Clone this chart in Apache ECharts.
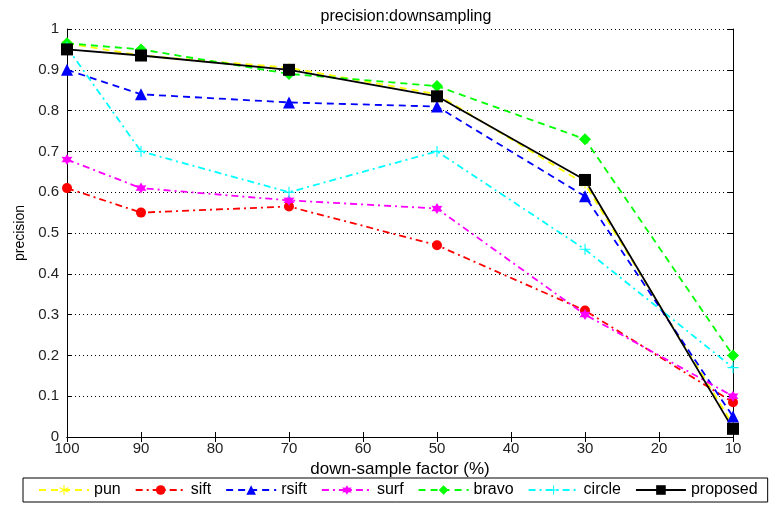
<!DOCTYPE html>
<html>
<head>
<meta charset="utf-8">
<script src="https://cdn.jsdelivr.net/npm/echarts@6/dist/echarts.min.js"></script>
<style>
html, body { margin: 0; padding: 0; background: #fff; }
#chart { width: 776px; height: 508px; }
</style>
</head>
<body>
<div id="chart"></div>
<script>
// down-sample factor (%)
var factors = [100, 90, 70, 50, 30, 10];

var pun      = [0.965, 0.935, 0.905, 0.84, 0.62, 0.03];
var sift     = [0.61, 0.55, 0.565, 0.47, 0.31, 0.085];
var rsift    = [0.90, 0.84, 0.82, 0.81, 0.59, 0.05];
var surf     = [0.68, 0.61, 0.58, 0.56, 0.30, 0.10];
var bravo    = [0.965, 0.95, 0.89, 0.86, 0.73, 0.20];
var circle   = [0.955, 0.70, 0.60, 0.70, 0.46, 0.17];
var proposed = [0.95, 0.935, 0.90, 0.835, 0.63, 0.02];

var font = 'Liberation Sans';
var dash = [7, 5];
var dashDot = [7, 4, 2, 4];

// marker shapes
var plusPath = 'path://M4.5,0h1v4.5h4.5v1h-4.5v4.5h-1v-4.5h-4.5v-1h4.5z';
var asterPath = 'path://M4.5,0h1v3.8l3.3,-1.9l0.5,0.9l-3.3,1.9l3.3,1.9l-0.5,0.9l-3.3,-1.9v3.8h-1v-3.8l-3.3,1.9l-0.5,-0.9l3.3,-1.9l-3.3,-1.9l0.5,-0.9l3.3,1.9z';
var hexPath = 'path://M5,0L6.4,2.6L9.3,2.5L7.8,5L9.3,7.5L6.4,7.4L5,10L3.6,7.4L0.7,7.5L2.2,5L0.7,2.5L3.6,2.6z';

function pts(vals) {
    return vals.map(function (v, i) { return [factors[i], v]; });
}

function line(name, vals, color, type, symbol, size) {
    return {
        name: name,
        type: 'line',
        data: pts(vals),
        xAxisIndex: 0,
        yAxisIndex: 0,
        symbol: symbol,
        symbolSize: size,
        showAllSymbol: true,
        lineStyle: { color: color, width: 1.8, type: type },
        itemStyle: { color: color },
        animation: false
    };
}

var chart = echarts.init(document.getElementById('chart'));
var axisLine = { show: true, lineStyle: { color: '#000', width: 1 } };
var tick = { show: true, inside: true, length: 5, lineStyle: { color: '#000' } };
var label = { color: '#222', fontFamily: font, fontSize: 15 };

chart.setOption({
    backgroundColor: '#fff',
    title: {
        text: 'precision:downsampling',
        left: 401,
        top: 4,
        textAlign: 'center',
        textStyle: { fontFamily: font, fontSize: 16, fontWeight: 'normal', color: '#000' }
    },
    grid: { left: 67, right: 43, top: 29, bottom: 71 },
    xAxis: [{
        type: 'value',
        inverse: true,
        min: 10, max: 100, interval: 10,
        name: 'down-sample factor (%)',
        nameLocation: 'middle',
        nameGap: 19,
        nameTextStyle: { fontFamily: font, fontSize: 17, color: '#000' },
        axisLine: axisLine,
        axisTick: tick,
        axisLabel: Object.assign({ margin: 4 }, label),
        splitLine: { show: false }
    }, {
        type: 'value',
        inverse: true,
        position: 'top',
        min: 10, max: 100, interval: 10,
        axisLine: axisLine,
        axisTick: tick,
        axisLabel: { show: false },
        splitLine: { show: false }
    }],
    yAxis: [{
        type: 'value',
        min: 0, max: 1, interval: 0.1,
        name: 'precision',
        nameLocation: 'middle',
        nameGap: 35,
        nameTextStyle: { fontFamily: font, fontSize: 14, color: '#000' },
        axisLine: axisLine,
        axisTick: tick,
        axisLabel: Object.assign({ margin: 8 }, label),
        splitLine: { show: true, lineStyle: { color: '#000', width: 1, type: [1, 3] } }
    }, {
        type: 'value',
        position: 'right',
        min: 0, max: 1, interval: 0.1,
        axisLine: axisLine,
        axisTick: tick,
        axisLabel: { show: false },
        splitLine: { show: false }
    }],
    legend: {
        left: 23,
        top: 478,
        width: 722,
        padding: [4, 10, 4, 15],
        itemGap: 14,
        itemWidth: 50,
        itemHeight: 12,
        borderColor: '#000',
        borderWidth: 1,
        borderRadius: 0,
        textStyle: { fontFamily: font, fontSize: 16, color: '#000' },
        data: ['pun', 'sift', 'rsift', 'surf', 'bravo', 'circle', 'proposed']
    },
    series: [
        line('pun', pun, '#ffff00', dash, asterPath, 9),
        line('sift', sift, '#ff0000', dashDot, 'circle', 10),
        line('rsift', rsift, '#0000ff', dash, 'triangle', 12),
        line('surf', surf, '#ff00ff', dashDot, hexPath, 11),
        line('bravo', bravo, '#00ff00', dash, 'diamond', 12),
        line('circle', circle, '#00ffff', dashDot, plusPath, 11),
        line('proposed', proposed, '#000000', 'solid', 'rect', 12)
    ]
});
</script>
</body>
</html>
